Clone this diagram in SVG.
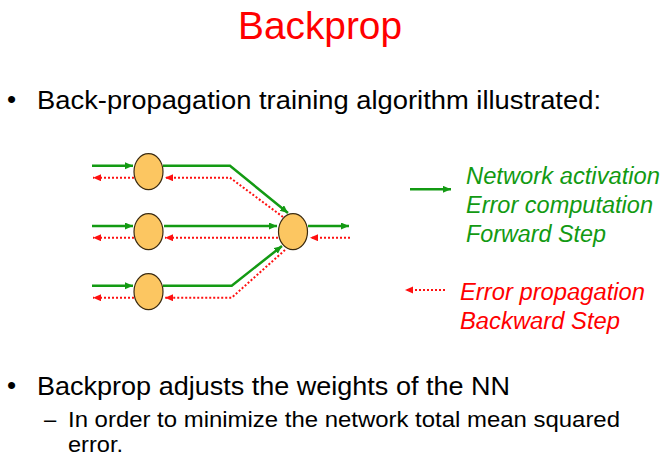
<svg xmlns="http://www.w3.org/2000/svg" width="663" height="459" viewBox="0 0 663 459">
<style>
text{font-family:"Liberation Sans",Arial,sans-serif}
.title{font-size:38px;fill:#ff0000}
.b1{font-size:26px;fill:#000}
.b2{font-size:22px;fill:#000}
.lg{font-size:23px;font-style:italic;fill:#129a12}
.lr{font-size:23px;font-style:italic;fill:#ff0000}
.fw{fill:none;stroke:#139a13;stroke-width:2.5;marker-end:url(#ag)}
.bw{fill:none;stroke:#ff1010;stroke-width:2;stroke-dasharray:2 2;marker-end:url(#ar)}
.node{fill:#fcc661;stroke:#3a2a10;stroke-width:1.2}
</style>
<defs>
<marker id="ag" markerUnits="userSpaceOnUse" markerWidth="9" markerHeight="8" refX="8" refY="3.5" orient="auto"><path d="M0,0 L8,3.5 L0,7 z" fill="#139a13"/></marker>
<marker id="ar" markerUnits="userSpaceOnUse" markerWidth="9" markerHeight="8" refX="8" refY="3.5" orient="auto"><path d="M0,0 L8,3.5 L0,7 z" fill="#ff1010"/></marker>
</defs>
<rect width="663" height="459" fill="#fff"/>
<text class="title" x="320" y="38.5" text-anchor="middle" textLength="164" lengthAdjust="spacingAndGlyphs">Backprop</text>
<text class="b1" x="7" y="108">•</text>
<text class="b1" x="37" y="108.5" textLength="564" lengthAdjust="spacingAndGlyphs">Back-propagation training algorithm illustrated:</text>
<g id="connectors">
<path class="fw" d="M92,165.7 H133"/>
<path class="fw" d="M92,226 H133"/>
<path class="fw" d="M92,285.7 H133"/>
<path class="bw" d="M134,177.7 H93"/>
<path class="bw" d="M134,237.7 H93"/>
<path class="bw" d="M134,297.7 H93"/>
<path class="fw" d="M163,165.7 H230 L288,213"/>
<path class="fw" d="M164,226 H277"/>
<path class="fw" d="M163,285.7 H231.7 L282,246"/>
<path class="bw" d="M283,217 L230,177.7 H165"/>
<path class="bw" d="M278,237.7 H165"/>
<path class="bw" d="M285,250 L231.7,297.7 H165"/>
<path class="fw" d="M308,226 H349"/>
<path class="bw" d="M350,237.7 H310"/>
</g>
<g id="n1"><ellipse class="node" cx="148.5" cy="171.7" rx="14.5" ry="18"/></g>
<g id="n2"><ellipse class="node" cx="148.5" cy="231.7" rx="14.5" ry="18"/></g>
<g id="n3"><ellipse class="node" cx="148.5" cy="291.7" rx="14.5" ry="18"/></g>
<g id="out"><ellipse class="node" cx="293" cy="231.7" rx="14.5" ry="18"/></g>
<g id="legend">
<path class="fw" d="M410,189.3 H451"/>
<text class="lg" x="466" y="184" textLength="194" lengthAdjust="spacingAndGlyphs">Network activation</text>
<text class="lg" x="466" y="213" textLength="187" lengthAdjust="spacingAndGlyphs">Error computation</text>
<text class="lg" x="466" y="242" textLength="140" lengthAdjust="spacingAndGlyphs">Forward Step</text>
<path class="bw" d="M445,290 H405"/>
<text class="lr" x="460" y="300" textLength="185" lengthAdjust="spacingAndGlyphs">Error propagation</text>
<text class="lr" x="460" y="328.5" textLength="160" lengthAdjust="spacingAndGlyphs">Backward Step</text>
</g>
<text class="b1" x="7" y="394">•</text>
<text class="b1" x="37" y="395" textLength="473" lengthAdjust="spacingAndGlyphs">Backprop adjusts the weights of the NN</text>
<text class="b2" x="44" y="426.7">–</text>
<text class="b2" x="68" y="426.7" textLength="552" lengthAdjust="spacingAndGlyphs">In order to minimize the network total mean squared</text>
<text class="b2" x="68" y="451.7" textLength="55" lengthAdjust="spacingAndGlyphs">error.</text>
</svg>
